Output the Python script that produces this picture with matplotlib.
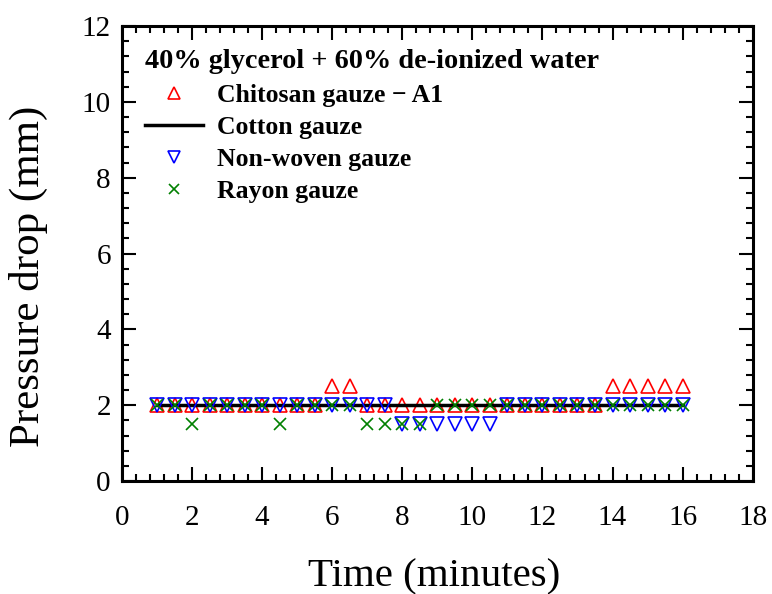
import numpy as np
import matplotlib.pyplot as plt
from matplotlib.ticker import MultipleLocator

plt.rcParams['font.family'] = ['Liberation Serif', 'DejaVu Serif']

time = [1, 1.5, 2, 2.5, 3, 3.5, 4, 4.5, 5, 5.5, 6, 6.5, 7, 7.5, 8, 8.5,
        9, 9.5, 10, 10.5, 11, 11.5, 12, 12.5, 13, 13.5, 14, 14.5, 15, 15.5, 16]
chitosan = [2, 2, 2, 2, 2, 2, 2, 2, 2, 2, 2.5, 2.5, 2, 2, 2, 2,
            2, 2, 2, 2, 2, 2, 2, 2, 2, 2, 2.5, 2.5, 2.5, 2.5, 2.5]
cotton = [2] * 31
nonwoven = [2, 2, 2, 2, 2, 2, 2, 2, 2, 2, 2, 2, 2, 2, 1.5, 1.5,
            1.5, 1.5, 1.5, 1.5, 2, 2, 2, 2, 2, 2, 2, 2, 2, 2, 2]
rayon = [2, 2, 1.5, 2, 2, 2, 2, 1.5, 2, 2, 2, 2, 1.5, 1.5, 1.5, 1.5,
         2, 2, 2, 2, 2, 2, 2, 2, 2, 2, 2, 2, 2, 2, 2]

fig = plt.figure(figsize=(7.72, 5.94), dpi=100)
ax = fig.add_axes([0.158, 0.19, 0.817, 0.766])

ax.plot(time, chitosan, linestyle='none', marker='^', ms=10, mfc='none', mec='red', mew=1.2,
        label='Chitosan gauze \u2212 A1')
ax.plot(time, cotton, color='black', lw=2.5, label='Cotton gauze')
ax.plot(time, nonwoven, linestyle='none', marker='v', ms=10, mfc='none', mec='blue', mew=1.2,
        label='Non-woven gauze')
ax.plot(time, rayon, linestyle='none', marker='x', ms=9, color='green', mew=1.2,
        label='Rayon gauze')

ax.set_xlim(0, 18)
ax.set_ylim(0, 12)
ax.xaxis.set_major_locator(MultipleLocator(2))
ax.xaxis.set_minor_locator(MultipleLocator(0.4))
ax.yaxis.set_major_locator(MultipleLocator(2))
ax.yaxis.set_minor_locator(MultipleLocator(0.4))
ax.tick_params(which='both', direction='in', top=True, right=True, width=1.5, labelsize=21)
ax.tick_params(which='major', length=10)
ax.tick_params(which='minor', length=5)
ax.tick_params(axis='x', pad=17)
ax.tick_params(axis='y', pad=8)
for s in ax.spines.values():
    s.set_linewidth(2.2)

ax.set_xlabel('Time (minutes)', fontsize=29.5)
ax.set_ylabel('Pressure drop (mm)', fontsize=31)
ax.xaxis.set_label_coords(0.495, -0.17)
ax.yaxis.set_label_coords(-0.118, 0.45)

leg = ax.legend(loc='upper left', bbox_to_anchor=(0.0, 1.0), frameon=False,
                title='40% glycerol + 60% de-ionized water',
                prop={'weight': 'bold', 'size': 18.5}, handlelength=2.25,
                labelspacing=0.36, borderaxespad=0.5, handletextpad=0.55,
                markerscale=0.85)
leg.get_title().set_fontweight('bold')
leg.get_title().set_fontsize(20.3)
leg._legend_box.align = 'left'

fig.savefig('out.png', dpi=100)
